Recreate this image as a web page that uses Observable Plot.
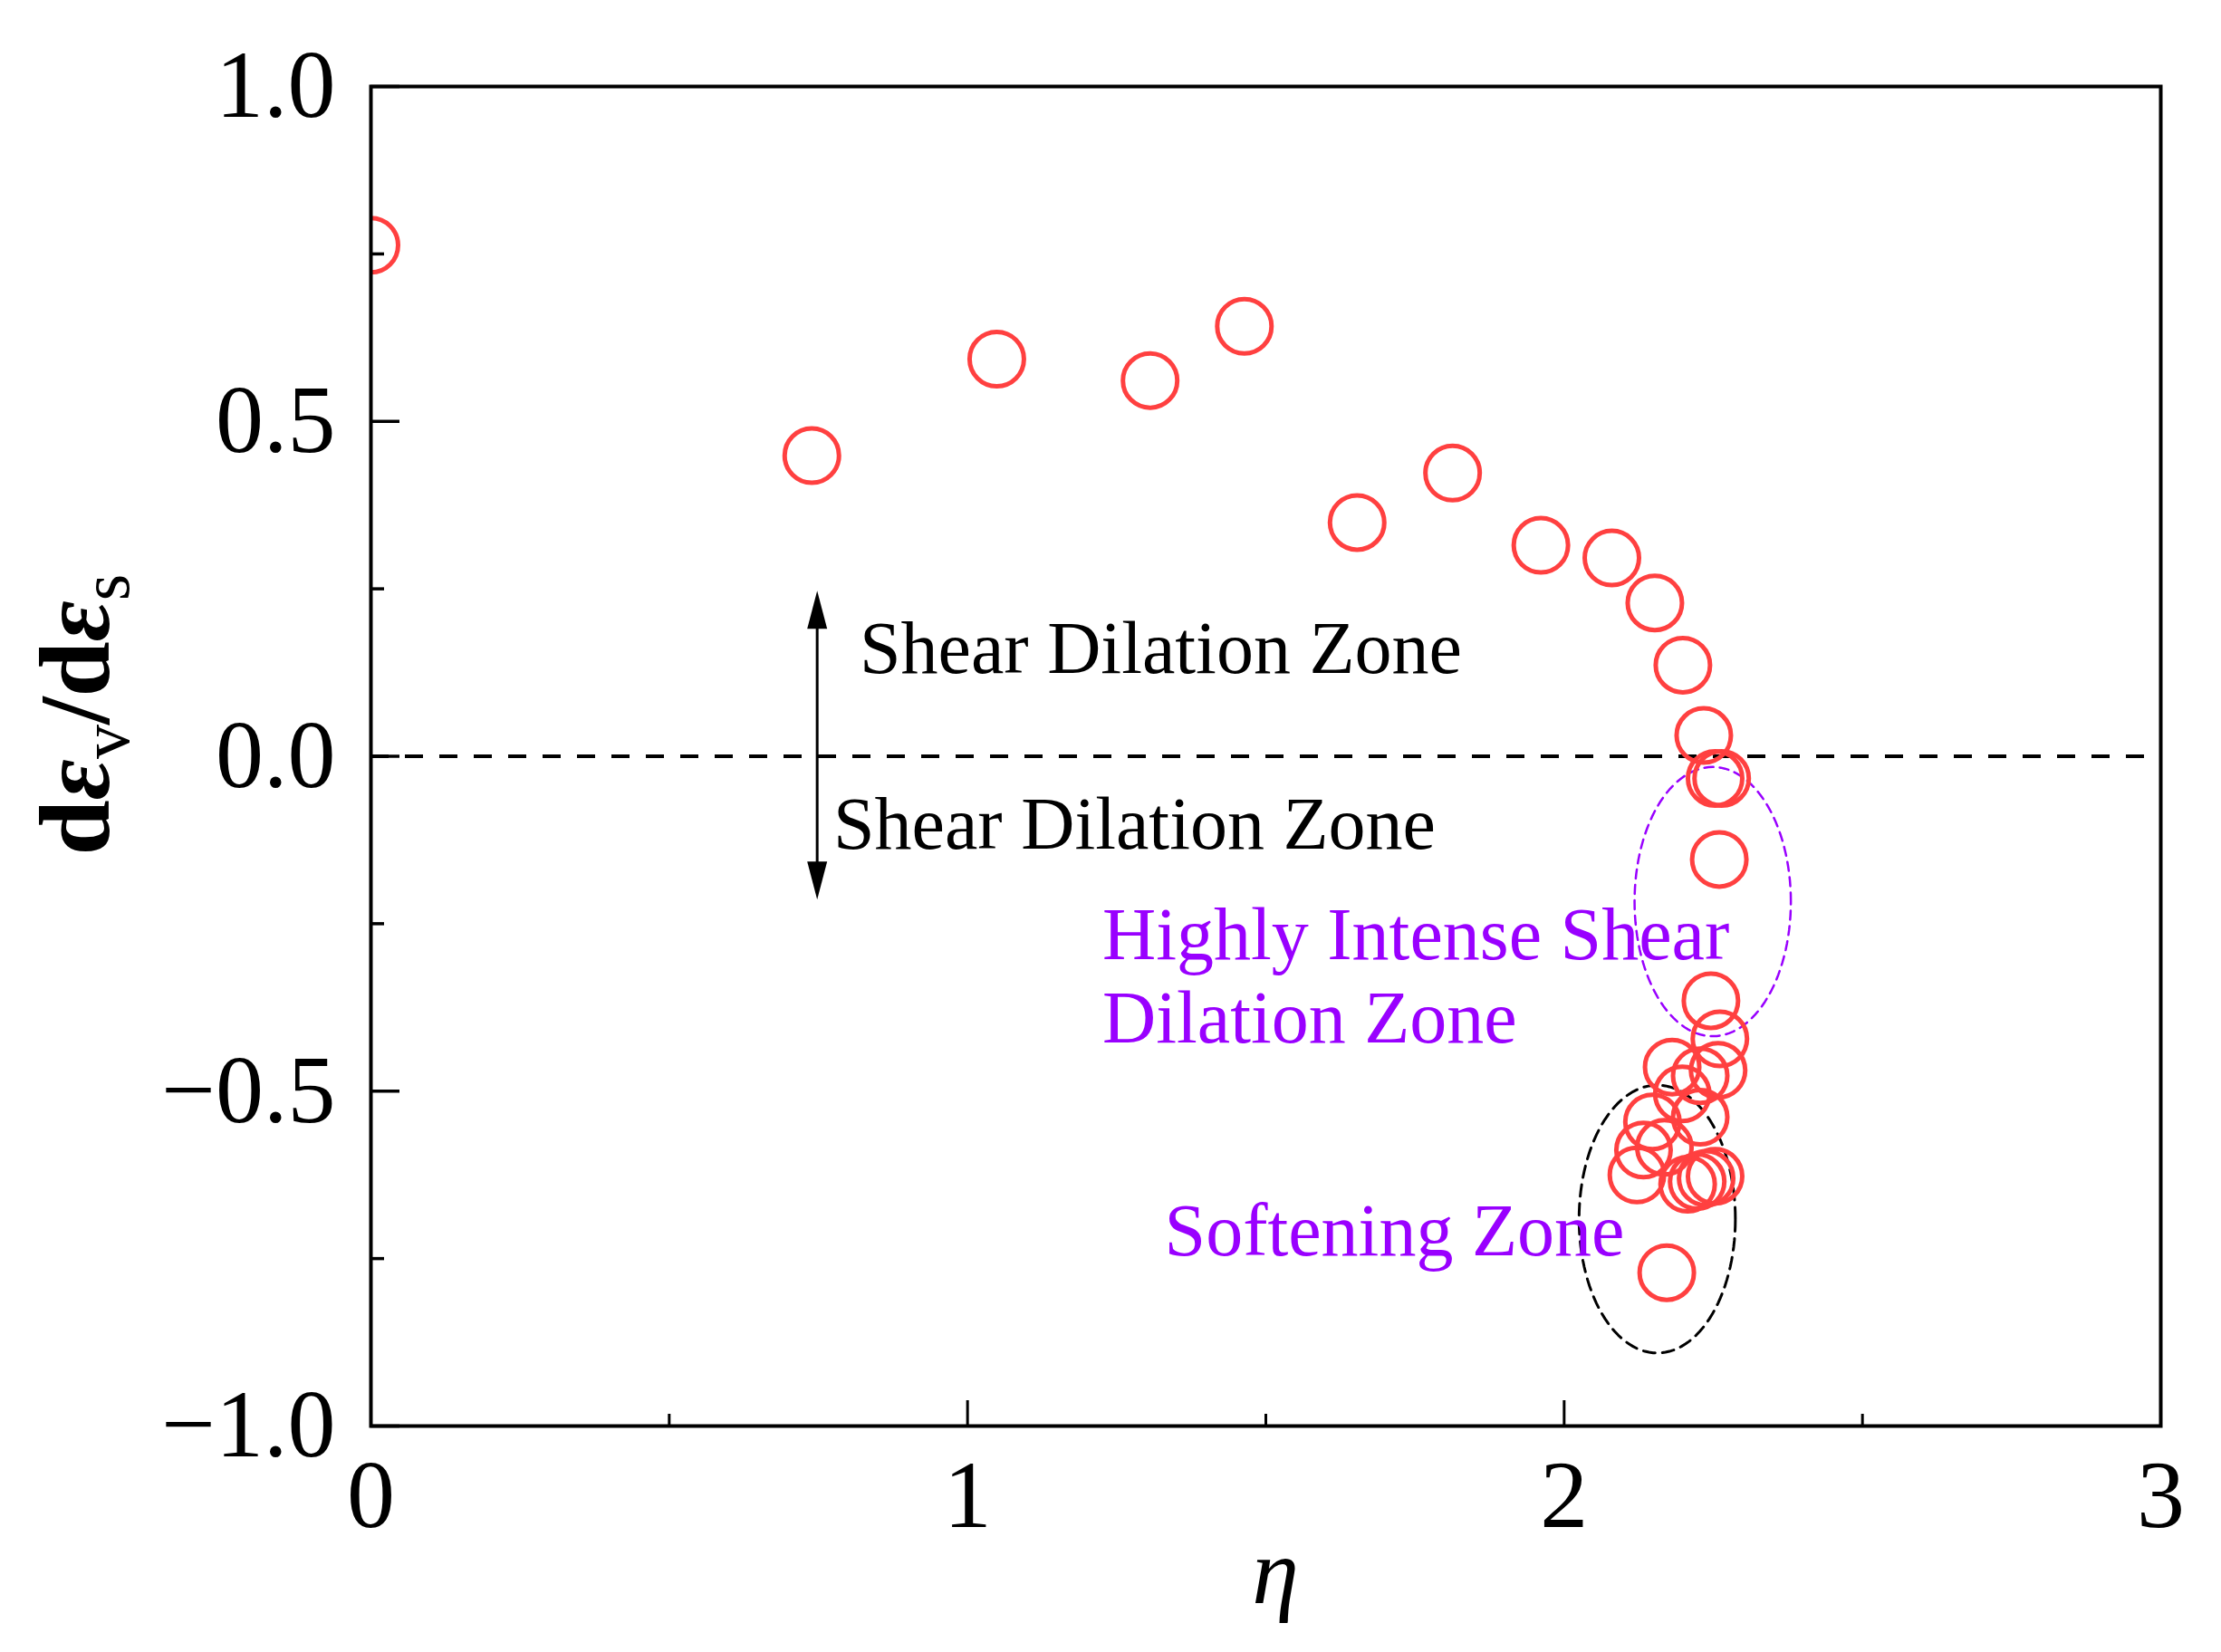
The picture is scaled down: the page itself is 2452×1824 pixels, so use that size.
<!DOCTYPE html>
<html>
<head>
<meta charset="utf-8">
<script src="https://cdn.jsdelivr.net/npm/d3@7"></script>
<script src="https://cdn.jsdelivr.net/npm/@observablehq/plot@0.6"></script>
<style>
  body { margin: 0; background: #fff; }
  #chart svg { display: block; }
</style>
</head>
<body>
<div id="chart"></div>
<script>
// eta (stress ratio) vs dilatancy d(eps_v)/d(eps_s)
const eta = [0.0, 0.739, 1.049, 1.306, 1.464, 1.653, 1.813, 1.961, 2.080, 2.152,
  2.199, 2.234, 2.253, 2.264, 2.260, 2.246, 2.261, 2.258, 2.228, 2.181,
  2.198, 2.228, 2.148, 2.133, 2.168, 2.122, 2.207, 2.223, 2.238, 2.253, 2.172]
const dilatancy = [0.763, 0.449, 0.593, 0.561, 0.642, 0.349, 0.423, 0.315, 0.296, 0.229,
  0.136, 0.031, -0.033, -0.033, -0.154, -0.365, -0.422, -0.469, -0.477, -0.464,
  -0.504, -0.539, -0.546, -0.588, -0.584, -0.625, -0.639, -0.635, -0.630, -0.627, -0.771]

const xTicks = [0, 1, 2, 3]
const xTickLabels = ["0", "1", "2", "3"]
const xMinorTicks = [0.5, 1.5, 2.5]
const yTicks = [-1, -0.5, 0, 0.5, 1]
const yTickLabels = ["\u22121.0", "\u22120.5", "0.0", "0.5", "1.0"]
const yMinorTicks = [-0.75, -0.25, 0.25, 0.75]

// annotations
const zoneLabels = [
  {x: 0.819, y: 0.160, text: "Shear Dilation Zone", color: "black"},
  {x: 0.775, y: -0.102, text: "Shear Dilation Zone", color: "black"},
  {x: 1.226, y: -0.267, text: "Highly Intense Shear", color: "#9900ff"},
  {x: 1.226, y: -0.392, text: "Dilation Zone", color: "#9900ff"},
  {x: 1.330, y: -0.710, text: "Softening Zone", color: "#9900ff"}
]
const arrowX = 0.748
const arrowTop = 0.247
const arrowBottom = -0.214
// dashed ellipses marking the zones: centre and half-axes in data units
const intenseZone = {cx: 2.249, cy: -0.217, rx: 0.131, ry: 0.201}
const softZone = {cx: 2.156, cy: -0.691, rx: 0.131, ry: 0.200}

const points = eta.map((e, i) => ({eta: e, d: dilatancy[i]}))

function outline(z) {
  return d3.range(0, 361, 3).map(a => ({
    x: z.cx + z.rx * Math.cos(a * Math.PI / 180),
    y: z.cy + z.ry * Math.sin(a * Math.PI / 180)
  }))
}

const headUp = {draw(ctx) { ctx.moveTo(0, 0); ctx.lineTo(-11, 42); ctx.lineTo(11, 42); ctx.closePath() }}
const headDown = {draw(ctx) { ctx.moveTo(0, 0); ctx.lineTo(-11, -42); ctx.lineTo(11, -42); ctx.closePath() }}

const serif = "Liberation Serif, Times New Roman, serif"

const chart = Plot.plot({
  width: 2452,
  height: 1824,
  marginLeft: 409,
  marginRight: 67,
  marginTop: 95,
  marginBottom: 250,
  style: {fontFamily: serif, background: "white", color: "black"},
  x: {domain: [0, 3], label: null},
  y: {domain: [-1, 1], label: null},
  marks: [
    Plot.ruleY([0], {stroke: "black", strokeWidth: 4, strokeDasharray: "20,18"}),
    Plot.line(outline(intenseZone), {x: "x", y: "y", stroke: "#9900ff", strokeWidth: 2.5, strokeDasharray: "10,7"}),
    Plot.line(outline(softZone), {x: "x", y: "y", stroke: "black", strokeWidth: 3, strokeDasharray: "13,8"}),
    Plot.ruleX([arrowX], {y1: arrowBottom + 0.04, y2: arrowTop - 0.04, stroke: "black", strokeWidth: 3}),
    Plot.dot([arrowTop], {x: () => arrowX, y: d => d, symbol: headUp, fill: "black", stroke: null}),
    Plot.dot([arrowBottom], {x: () => arrowX, y: d => d, symbol: headDown, fill: "black", stroke: null}),
    Plot.text(zoneLabels, {x: "x", y: "y", text: "text", fill: "color", textAnchor: "start",
      fontSize: 82, fontFamily: serif}),
    Plot.dot(points, {x: "eta", y: "d", r: 30, stroke: "#ff4040", strokeWidth: 5, fill: "none", clip: true}),
    // inward ticks
    Plot.axisX({ticks: xTicks, tickSize: -28, tickFormat: () => "", strokeWidth: 3}),
    Plot.axisX({ticks: xMinorTicks, tickSize: -13, tickFormat: () => "", strokeWidth: 3}),
    Plot.axisY({ticks: yTicks, tickSize: -32, tickFormat: () => "", strokeWidth: 3.5}),
    Plot.axisY({ticks: yMinorTicks, tickSize: -15, tickFormat: () => "", strokeWidth: 3.5}),
    // labels
    Plot.axisX({ticks: xTicks, tickSize: 0, tickPadding: 36, fontSize: 106,
      tickFormat: (d, i) => xTickLabels[i], label: null}),
    Plot.axisY({ticks: yTicks, tickSize: 0, tickPadding: 39, fontSize: 106,
      tickFormat: (d, i) => yTickLabels[i], label: null}),
    Plot.frame({stroke: "black", strokeWidth: 4})
  ]
})

const svg = d3.select(chart)
const ylab = svg.append("text")
  .attr("transform", "translate(120,789) rotate(-90)")
  .attr("text-anchor", "middle")
  .attr("font-family", serif)
  .attr("font-size", 110)
  .attr("font-weight", "bold")
  .attr("fill", "black")
ylab.append("tspan").text("d")
ylab.append("tspan").attr("font-style", "italic").text("\u03b5")
ylab.append("tspan").attr("font-size", 76).attr("font-weight", "normal").attr("dy", 22).text("v")
ylab.append("tspan").attr("dy", -22).text("/d")
ylab.append("tspan").attr("font-style", "italic").text("\u03b5")
ylab.append("tspan").attr("font-size", 76).attr("font-weight", "normal").attr("dy", 22).text("s")

svg.append("text")
  .attr("x", 1408)
  .attr("y", 1770)
  .attr("text-anchor", "middle")
  .attr("font-family", serif)
  .attr("font-size", 104)
  .attr("font-style", "italic")
  .attr("fill", "black")
  .text("\u03b7")

d3.select('#chart').append(() => chart)
</script>
</body>
</html>
